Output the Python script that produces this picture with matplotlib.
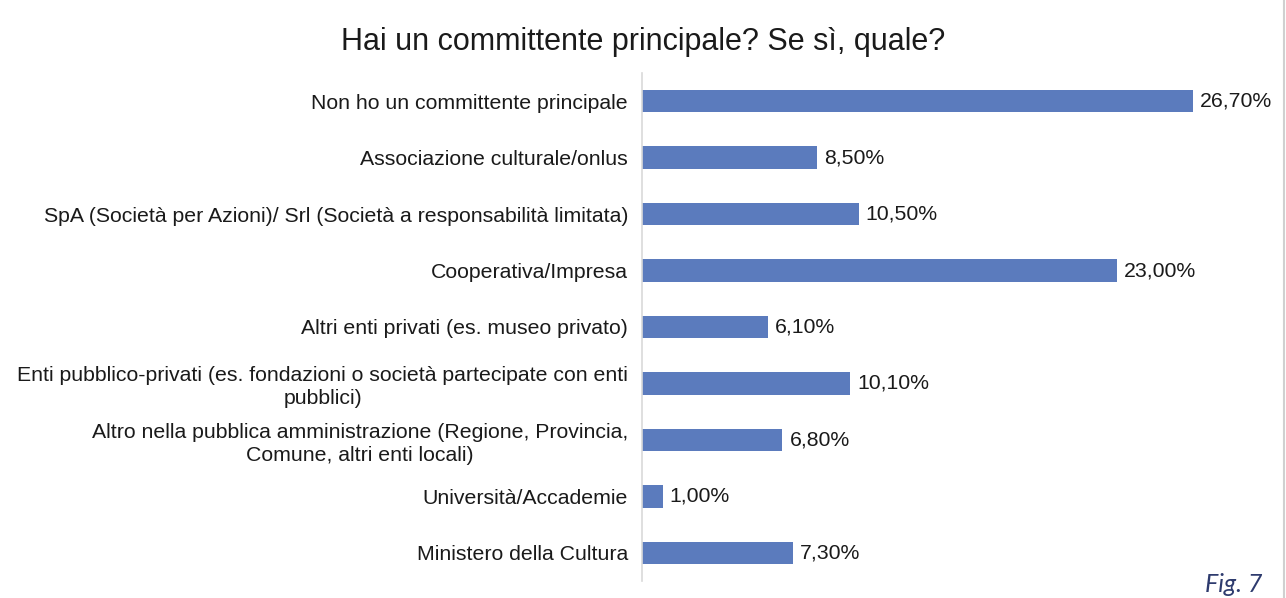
import matplotlib
matplotlib.use("Agg")
import matplotlib.pyplot as plt

categories = [
    "Non ho un committente principale",
    "Associazione culturale/onlus",
    "SpA (Società per Azioni)/ Srl (Società a responsabilità limitata)",
    "Cooperativa/Impresa",
    "Altri enti privati (es. museo privato)",
    "Enti pubblico-privati (es. fondazioni o società partecipate con enti\npubblici)",
    "Altro nella pubblica amministrazione (Regione, Provincia,\nComune, altri enti locali)",
    "Università/Accademie",
    "Ministero della Cultura",
]
values = [26.7, 8.5, 10.5, 23.0, 6.1, 10.1, 6.8, 1.0, 7.3]
value_labels = ["26,70%", "8,50%", "10,50%", "23,00%", "6,10%", "10,10%", "6,80%", "1,00%", "7,30%"]
title = "Hai un committente principale? Se sì, quale?"

plt.rcParams['font.family'] = ['Liberation Sans', 'DejaVu Sans']

fig = plt.figure(figsize=(12.86, 5.98), dpi=100)
ax = fig.add_axes([0.4992, 0.0284, 0.4814, 0.8496])

FS = 15.3
y = list(range(len(categories)))
ax.barh(y, values, height=0.4, color="#5b7bbd", zorder=2)
ax.set_ylim(len(categories) - 0.5, -0.5)
ax.set_xlim(0, 30)
ax.set_yticks(y)
ax.set_yticklabels(categories, fontsize=FS, color="#1a1a1a", multialignment="center",
                   linespacing=1.25)
ax.tick_params(axis='y', length=0, pad=10)
ax.set_xticks([])
for s in ["top", "right", "bottom"]:
    ax.spines[s].set_visible(False)
ax.spines["left"].set_color("#d9d9d9")
ax.spines["left"].set_linewidth(1.2)

for yi, v, lab in zip(y, values, value_labels):
    ax.text(v + 0.35, yi, lab, va="center", ha="left", fontsize=FS, color="#1a1a1a")

fig.text(0.5, 0.929, title, ha="center", va="center", fontsize=22, color="#1a1a1a")
fig.text(0.982, 0.004, "Fig. 7", ha="right", va="bottom", fontsize=18, style="italic",
         color="#2e3b6e", family=["Lato", "DejaVu Sans"])
fig.add_artist(plt.Line2D([0.9985, 0.9985], [0, 1], color="#d0d0d0", lw=1.5, transform=fig.transFigure))

fig.savefig("out.png", dpi=100)
